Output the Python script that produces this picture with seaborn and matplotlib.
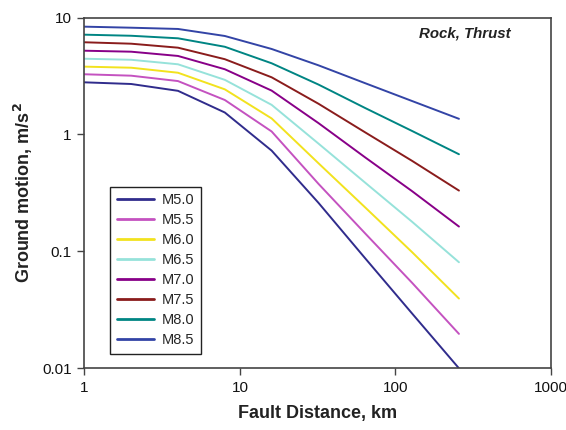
import numpy as np
import pandas as pd
import matplotlib
matplotlib.use("Agg")
import matplotlib.pyplot as plt
import seaborn as sns
from matplotlib.ticker import FixedLocator, NullLocator

distances = [1, 2, 4, 8, 16, 32, 64, 128, 256]
magnitudes = ["M5.0", "M5.5", "M6.0", "M6.5", "M7.0", "M7.5", "M8.0", "M8.5"]

m50 = [2.79, 2.70, 2.36, 1.54, 0.727, 0.26, 0.087, 0.0294, 0.0100]
m55 = [3.27, 3.18, 2.86, 1.97, 1.06, 0.378, 0.142, 0.0538, 0.0197]
m60 = [3.80, 3.72, 3.37, 2.43, 1.37, 0.567, 0.237, 0.0984, 0.0395]
m65 = [4.44, 4.35, 3.98, 2.93, 1.79, 0.835, 0.386, 0.179, 0.0807]
m70 = [5.20, 5.10, 4.69, 3.61, 2.37, 1.25, 0.635, 0.327, 0.163]
m75 = [6.14, 5.97, 5.52, 4.40, 3.08, 1.83, 1.04, 0.594, 0.331]
m80 = [7.13, 6.98, 6.64, 5.62, 4.06, 2.67, 1.68, 1.07, 0.677]
m85 = [8.35, 8.18, 7.98, 6.95, 5.38, 3.90, 2.74, 1.93, 1.36]

series = [m50, m55, m60, m65, m70, m75, m80, m85]
colors = ["#302c8c", "#c452c0", "#f2e21e", "#96e2da",
          "#880088", "#8a1c1c", "#008583", "#3344a6"]

x_ticks = [1, 10, 100, 1000]
x_tick_labels = ["1", "10", "100", "1000"]
y_ticks = [0.01, 0.1, 1, 10]
y_tick_labels = ["0.01", "0.1", "1", "10"]

rows = []
for mag, vals in zip(magnitudes, series):
    for d, v in zip(distances, vals):
        rows.append({"Distance": d, "Motion": v, "Magnitude": mag})
df = pd.DataFrame(rows)

sns.set_style("ticks")
plt.rcParams["font.family"] = ["Liberation Sans", "DejaVu Sans"]

fig = plt.figure(figsize=(5.66, 4.30), dpi=100)
ax = fig.add_axes([0.149, 0.1435, 0.8245, 0.8158])

sns.lineplot(data=df, x="Distance", y="Motion", hue="Magnitude",
             hue_order=magnitudes, palette=dict(zip(magnitudes, colors)),
             linewidth=1.4, ax=ax, legend=True)

ax.set_xscale("log")
ax.set_yscale("log")
ax.set_xlim(1, 1000)
ax.set_ylim(0.01, 10)
ax.xaxis.set_major_locator(FixedLocator(x_ticks))
ax.yaxis.set_major_locator(FixedLocator(y_ticks))
ax.xaxis.set_minor_locator(NullLocator())
ax.yaxis.set_minor_locator(NullLocator())
ax.set_xticklabels(x_tick_labels)
ax.set_yticklabels(y_tick_labels)
ax.tick_params(axis="both", labelsize=11, length=5, width=1.0,
               color="#444444", direction="out", pad=4, labelcolor="#111111")
for sp in ax.spines.values():
    sp.set_visible(True)
    sp.set_color("#444444")
    sp.set_linewidth(1.2)

ax.set_xlabel("Fault Distance, km", fontsize=13, fontweight="bold",
              color="#222222", labelpad=7)
ax.set_ylabel("Ground motion, m/s$^\\mathbf{2}$", fontsize=13, fontweight="bold",
              color="#222222", labelpad=5)

ax.text(0.914, 0.975, "Rock, Thrust", transform=ax.transAxes, ha="right", va="top",
        fontsize=10.8, fontweight="bold", fontstyle="italic", color="#222222")

leg = ax.legend(loc="lower left", bbox_to_anchor=(0.055, 0.041), frameon=True,
                fontsize=10.5, handlelength=2.6, labelspacing=0.41,
                borderpad=0.45, handletextpad=0.5, borderaxespad=0,
                fancybox=False, title=None)
leg.get_frame().set_edgecolor("#222222")
leg.get_frame().set_linewidth(1.0)
leg.get_frame().set_alpha(1)
for line in leg.get_lines():
    line.set_linewidth(2.0)

fig.savefig("out.png", dpi=100)
